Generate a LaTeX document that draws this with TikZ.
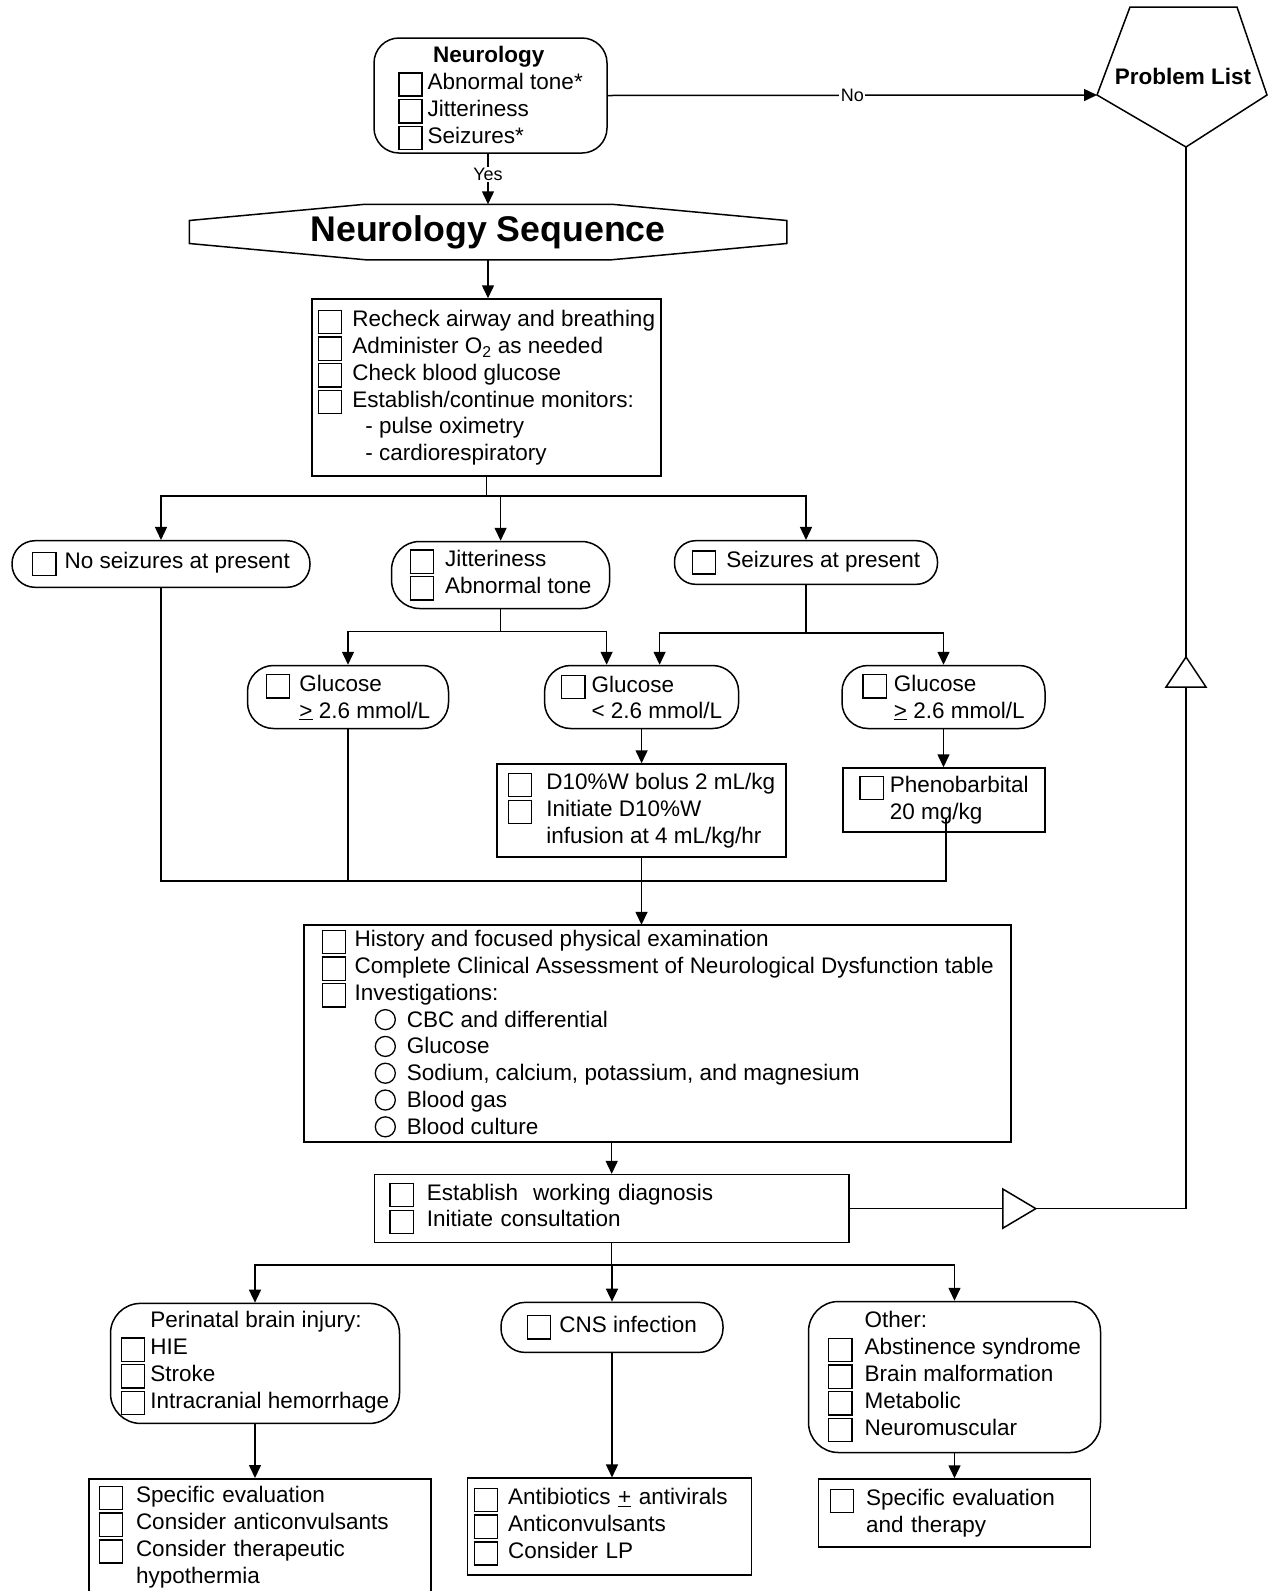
\documentclass[tikz,border=0pt]{standalone}
\usepackage{fontspec}
\setmainfont{Liberation Sans}
\usetikzlibrary{arrows.meta,calc,positioning}

\newcommand{\cbx}{\raisebox{-6pt}{\fboxsep=0pt\fboxrule=1.3pt\fbox{\rule{0pt}{21.9pt}\rule{21.9pt}{0pt}}}}
\newcommand{\ck}[1][10pt]{\cbx\hspace{#1}}
\newcommand{\nock}[1][10pt]{\hspace*{24.5pt}\hspace*{#1}}
\newcommand{\rd}{\tikz[baseline=-7.5pt]\draw[line width=1.3pt] (0pt,0pt) circle (10pt);}

\begin{document}
\begin{tikzpicture}[x=1pt,y=-1pt,line width=1.5pt,>={Triangle[length=13pt,width=12pt]},
  nbox/.style={draw,rectangle,align=left,inner sep=0pt,font=\fontsize{22.5}{26.8}\selectfont},
  pill/.style={nbox,rounded corners=#1},
  lbl/.style={fill=white,inner sep=1.5pt,font=\fontsize{18}{20}\selectfont}]
\useasboundingbox (0,0) rectangle (1271,1591);

\node[pill=25pt,minimum width=233pt,minimum height=115pt] (neuro) at (490.5,95.5)
  {\rule{0pt}{22pt}\hspace*{35pt}\textbf{Neurology}\\ \ck[5pt]Abnormal tone*\\ \ck[5pt]Jitteriness\\ \ck[5pt]Seizures*};

\node[font=\bfseries\fontsize{22.5}{26}\selectfont] (plist) at (1183,76) {Problem List};
\coordinate (pl-w) at (1097,95);
\coordinate (pl-s) at (1186,147);
\draw (1130,7) -- (1237,7) -- (1267,95) -- (pl-s) -- (pl-w) -- cycle;

\node[font=\bfseries\fontsize{35.7}{40}\selectfont,minimum width=596pt,minimum height=54pt,inner sep=0pt] (seq) at (488,232) {Neurology Sequence};
\draw ($(seq.north west)+(176,0)$) -- ($(seq.north east)+(-175,0)$) -- ($(seq.east)+(0,-11.5)$) -- ($(seq.east)+(0,11.5)$)
  -- ($(seq.south east)+(-175,0)$) -- ($(seq.south west)+(176,0)$) -- ($(seq.west)+(0,11.5)$) -- ($(seq.west)+(0,-11.5)$) -- cycle;

\node[nbox,minimum width=349pt,minimum height=177pt] (chk1) at (486.5,387.5)
  {\ck Recheck airway and breathing\\ \ck Administer O\textsubscript{2} as needed\\ \ck Check blood glucose\\
   \ck Establish/continue monitors:\\ \nock\hspace*{13pt}- pulse oximetry\\ \nock\hspace*{13pt}- cardiorespiratory};

\node[pill=23pt,minimum width=298pt,minimum height=46.6pt] (noseiz) at (161,564) {\ck[8pt]No seizures at present};
\node[pill=28pt,minimum width=218pt,minimum height=67pt] (jitt) at (500.6,575) {\ck[11pt]Jitteriness\\ \ck[11pt]Abnormal tone};
\node[pill=21pt,minimum width=263pt,minimum height=43.6pt] (seizp) at (806,562.5) {\ck[10pt]Seizures at present};

\node[pill=26pt,minimum width=201pt,minimum height=63pt] (gl1) at (348,697) {\ck[9pt]Glucose\\ \nock[9pt]\underline{>} 2.6 mmol/L};
\node[pill=26pt,minimum width=194pt,minimum height=63pt] (gl2) at (641.6,697) {\ck[6pt]Glucose\\ \nock[6pt]< 2.6 mmol/L};
\node[pill=26pt,minimum width=203pt,minimum height=63pt] (gl3) at (943.5,697) {\ck[7pt]Glucose\\ \nock[7pt]\underline{>} 2.6 mmol/L};

\node[nbox,minimum width=289pt,minimum height=93pt] (d10) at (641.5,810.5)
  {\ck[14pt]D10\%W bolus 2 mL/kg\\ \ck[14pt]Initiate D10\%W\\ \nock[14pt]infusion at 4 mL/kg/hr};
\node[nbox,minimum width=202pt,minimum height=64pt] (pheno) at (944,800) {\ck[6pt]Phenobarbital\\ \nock[6pt]20 mg/kg};

\node[nbox,minimum width=707pt,minimum height=217pt] (hx) at (657.7,1033.5)
  {\ck[8.5pt]History and focused physical examination\\
   \ck[8.5pt]Complete Clinical Assessment of Neurological Dysfunction table\\
   \ck[8.5pt]Investigations:\\
   \hspace*{53pt}\rd\hspace{11pt}CBC and differential\\
   \hspace*{53pt}\rd\hspace{11pt}Glucose\\
   \hspace*{53pt}\rd\hspace{11pt}Sodium, calcium, potassium, and magnesium\\
   \hspace*{53pt}\rd\hspace{11pt}Blood gas\\
   \hspace*{53pt}\rd\hspace{11pt}Blood culture};

\node[nbox,text width=444.7pt,inner xsep=15pt,minimum height=68pt] (dx) at (611.7,1208.6)
  {\ck[13pt]Establish\ \ working diagnosis\\ \ck[13pt]Initiate consultation};

\node[pill=30pt,minimum width=289pt,minimum height=120pt] (peri) at (255,1363.4)
  {\nock[5pt]Perinatal brain injury:\\ \ck[5pt]HIE\\ \ck[5pt]Stroke\\ \ck[5pt]Intracranial hemorrhage};
\node[pill=24pt,minimum width=222pt,minimum height=50pt] (cns) at (612,1327.4) {\ck[8pt]CNS infection};
\node[pill=30pt,minimum width=292pt,minimum height=151pt] (oth) at (954.5,1377)
  {\nock[12pt]Other:\\ \ck[12pt]Abstinence syndrome\\ \ck[12pt]Brain malformation\\ \ck[12pt]Metabolic\\ \ck[12pt]Neuromuscular};

\node[nbox,anchor=north,text width=323pt,inner xsep=9.5pt,minimum height=116pt] (b1) at (260,1478)
  {\ck[13pt]Specific evaluation\\ \ck[13pt]Consider anticonvulsants\\ \ck[13pt]Consider therapeutic\\ \nock[13pt]hypothermia};
\node[nbox,text width=272pt,inner xsep=6pt,minimum height=97pt] (b2) at (609.7,1526.7)
  {\ck[10pt]Antibiotics \underline{+} antivirals\\ \ck[10pt]Anticonvulsants\\ \ck[10pt]Consider LP};
\node[nbox,text width=250pt,inner xsep=11pt,minimum height=68pt] (b3) at (954.5,1513)
  {\ck[12pt]Specific evaluation\\ \nock[12pt]and therapy};

\draw[->] (neuro.south -| seq.north) -- node[lbl,pos=0.41]{Yes} (seq.north);
\draw[->] (neuro.east) -- node[lbl]{No} (pl-w);
\draw[->] (seq.south) -- (seq.south |- chk1.north);

\coordinate (s1) at ($(chk1.south)+(0,19)$);
\draw (chk1.south) -- (s1);
\foreach \t in {noseiz,jitt,seizp}
  \draw[->] (s1) -| (\t);

\coordinate (s2) at ($(jitt.south)+(0,22.4)$);
\draw (jitt.south) -- (s2);
\draw[->] (s2) -| (gl1);
\draw[->] (s2) -| ([xshift=-35pt]gl2.north);
\coordinate (s3) at ($(seizp.south)+(0,47.7)$);
\draw (seizp.south) -- (s3);
\draw[->] (s3) -| ([xshift=18pt]gl2.north);
\draw[->] (s3) -| (gl3);

\draw[->] (gl2.south) -- (gl2.south |- d10.north);
\draw[->] (gl3.south) -- (gl3.south |- pheno.north);

\coordinate (m1) at ($(d10.south)+(0,23)$);
\coordinate (m2) at ($(pheno.south)+(2,48)$);
\draw (noseiz.south) |- (m2) -- ++(0,-63);
\draw (gl1.south) -- (gl1.south |- m1);
\draw (d10.south) -- (m1);
\draw[->] (m1) -- (m1 |- hx.north);

\draw[->] (hx.south -| dx.north) -- (dx.north);
\draw (dx.east) -| (pl-s);
\draw[fill=white] ($(dx.east)+(153,-19.6)$) -- ++(33,19.6) -- ++(-33,19.6) -- cycle;
\draw[fill=white] ($(pl-s)+(-20,540)$) -- ++(40,0) -- ++(-20,-30) -- cycle;

\coordinate (s4) at ($(dx.south)+(0,21.5)$);
\draw (dx.south) -- (s4);
\foreach \t in {peri,cns,oth}
  \draw[->] (s4) -| (\t);

\draw[->] (peri.south) -- (peri.south |- b1.north);
\draw[->] (cns.south) -- (cns.south |- b2.north);
\draw[->] (oth.south) -- (oth.south |- b3.north);
\end{tikzpicture}
\end{document}
